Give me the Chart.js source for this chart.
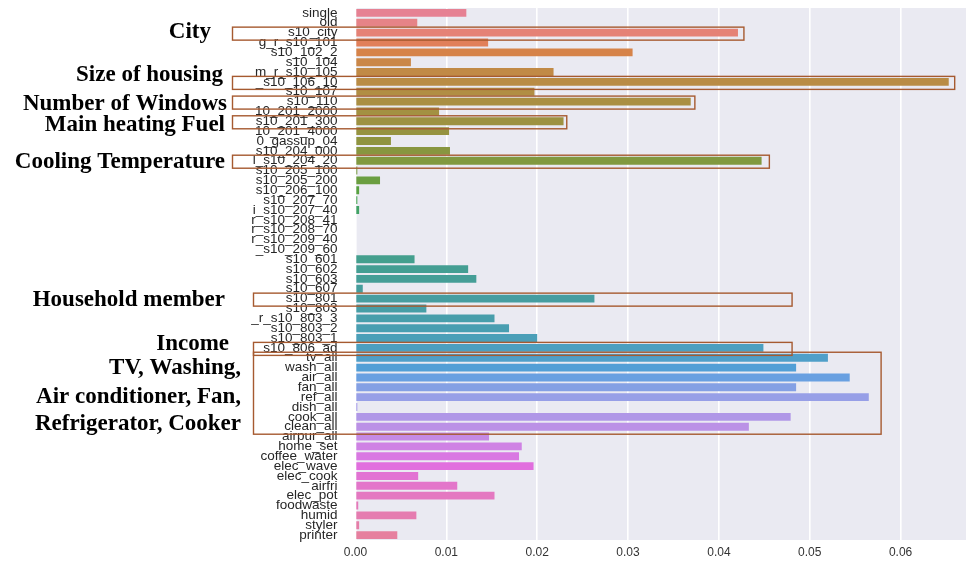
<!DOCTYPE html>
<html>
<head>
<meta charset="utf-8">
<script src="https://cdn.jsdelivr.net/npm/chart.js@4"></script>
<style>
  html, body { margin: 0; padding: 0; background: #ffffff; }
  #wrap { width: 968px; height: 571px; }
</style>
</head>
<body>
<div id="wrap"><canvas id="c" width="968" height="571"></canvas></div>
<script>
// Feature names (one per bar, top to bottom)
const features = [
  "single", "old", "s10_city", "g_r_s10_101", "s10_102_2", "s10_104",
  "m_r_s10_105", "_s10_106_10", "s10_107", "s10_110", "10_201_2000",
  "s10_201_300", "10_201_4000", "0_gassup_04", "s10_204_000", "l_s10_204_20",
  "s10_205_100", "s10_205_200", "s10_206_100", "s10_207_70", "i_s10_207_40",
  "r_s10_208_41", "r_s10_208_70", "r_s10_209_40", "_s10_209_60",
  "s10_601", "s10_602", "s10_603", "s10_607", "s10_801", "s10_803",
  "_r_s10_803_3", "s10_803_2", "s10_803_1", "s10_806_ad",
  "tv_all", "wash_all", "air_all", "fan_all", "ref_all", "dish_all",
  "cook_all", "clean_all", "airpur_all", "home_set", "coffee_water",
  "elec_wave", "elec_cook", "airfri", "elec_pot", "foodwaste", "humid",
  "styler", "printer"
];

// Importance score of each feature
const importance = [
  0.0122, 0.0068, 0.0421, 0.0146, 0.0305, 0.0061,
  0.0218, 0.0653, 0.0197, 0.0369, 0.0092,
  0.0229, 0.0103, 0.0039, 0.0104, 0.0447,
  0.0002, 0.0027, 0.0004, 0.0002, 0.0004,
  0.0, 0.0, 0.0, 0.0,
  0.0065, 0.0124, 0.0133, 0.0008, 0.0263, 0.0078,
  0.0153, 0.0169, 0.0200, 0.0449,
  0.0520, 0.0485, 0.0544, 0.0485, 0.0565, 0.0002,
  0.0479, 0.0433, 0.0147, 0.0183, 0.0180,
  0.0196, 0.0069, 0.0112, 0.0153, 0.0003, 0.0067,
  0.0004, 0.0046
];

// Value-axis ticks
const xTicks = [0.00, 0.01, 0.02, 0.03, 0.04, 0.05, 0.06];

// Highlighted feature groups: first row, last row, right end (in axis units)
const groupNames = ["City", "Size of housing", "Number of Windows", "Main heating Fuel",
  "Cooling Temperature", "Household member", "Income", "Appliances"];
const groupFirstRow = [2, 7, 9, 11, 15, 29, 34, 35];
const groupLastRow  = [2, 7, 9, 11, 15, 29, 34, 42];
const groupRightVal = [0.0427, 0.0659, 0.0373, 0.0232, 0.0455, 0.0480, 0.0480, 0.0578];

// Side captions
const captions = ["City", "Size of housing", "Number of Windows", "Main heating Fuel",
  "Cooling Temperature", "Household member", "Income", "TV, Washing,",
  "Air conditioner, Fan,", "Refrigerator, Cooker"];

// ---- layout for the callouts (pixels) ----
const boxLeft = [232, 232, 232, 232, 232, 253, 253, 253];
const captionRight = [211, 223, 227, 225, 225, 225, 229, 241, 241, 241];
const captionY = [32, 75, 104, 125, 162, 300, 344, 368, 397, 424];

// ---- seaborn-like "husl" palette, desaturated for bars ----
const M = [[3.2406, -1.5372, -0.4986], [-0.9689, 1.8758, 0.0415], [0.0557, -0.2040, 1.0570]];
const refU = 0.19784, refV = 0.46834, labE = 0.008856, labK = 903.3;

function maxChroma(L, H) {
  const hr = H / 360 * 2 * Math.PI, sinH = Math.sin(hr), cosH = Math.cos(hr);
  const sub1 = Math.pow(L + 16, 3) / 1560896;
  const sub2 = sub1 > labE ? sub1 : L / labK;
  let res = Infinity;
  for (const [m1, m2, m3] of M) {
    const top = (0.99915 * m1 + 1.05122 * m2 + 1.14460 * m3) * sub2;
    const rb = 0.86330 * m3 - 0.17266 * m2;
    const lb = 0.12949 * m3 - 0.38848 * m1;
    const bottom = (rb * sinH + lb * cosH) * sub2;
    for (const t of [0, 1]) {
      const C = L * (top - 1.05122 * t) / (bottom + 0.17266 * sinH * t);
      if (C > 0 && C < res) res = C;
    }
  }
  return res;
}
function fInv(t) { const t3 = t * t * t; return t3 > labE ? t3 : (116 * t - 16) / labK; }
function fromLinear(c) { return c <= 0.0031308 ? 12.92 * c : 1.055 * Math.pow(c, 1 / 2.4) - 0.055; }
function huslToRgb(H, S, L) {
  const C = maxChroma(L, H) / 100 * S;
  const hr = H / 360 * 2 * Math.PI;
  const U = Math.cos(hr) * C, V = Math.sin(hr) * C;
  const Y = fInv((L + 16) / 116);
  const vu = U / (13 * L) + refU, vv = V / (13 * L) + refV;
  const X = -(9 * Y * vu) / ((vu - 4) * vv - vu * vv);
  const Z = (9 * Y - 15 * vv * Y - vv * X) / (3 * vv);
  return M.map(r => Math.min(1, Math.max(0, fromLinear(r[0] * X + r[1] * Y + r[2] * Z))));
}
function rgbToHls(r, g, b) {
  const mx = Math.max(r, g, b), mn = Math.min(r, g, b);
  const l = (mx + mn) / 2;
  if (mx === mn) return [0, l, 0];
  const d = mx - mn;
  const s = l <= 0.5 ? d / (mx + mn) : d / (2 - mx - mn);
  const rc = (mx - r) / d, gc = (mx - g) / d, bc = (mx - b) / d;
  let h = r === mx ? bc - gc : g === mx ? 2 + rc - bc : 4 + gc - rc;
  h = ((h / 6) % 1 + 1) % 1;
  return [h, l, s];
}
function hlsToRgb(h, l, s) {
  if (s === 0) return [l, l, l];
  const m2 = l <= 0.5 ? l * (1 + s) : l + s - l * s;
  const m1 = 2 * l - m2;
  const v = (hue) => {
    hue = ((hue % 1) + 1) % 1;
    if (hue < 1 / 6) return m1 + (m2 - m1) * hue * 6;
    if (hue < 0.5) return m2;
    if (hue < 2 / 3) return m1 + (m2 - m1) * (2 / 3 - hue) * 6;
    return m1;
  };
  return [v(h + 1 / 3), v(h), v(h - 1 / 3)];
}
function barPalette(n) {
  const out = [];
  for (let i = 0; i < n; i++) {
    const hue = ((i / n + 0.01) % 1) * 359;
    const rgb = huslToRgb(hue, 0.9 * 99, 0.65 * 99);
    const [h, l, s] = rgbToHls(...rgb);
    const d = hlsToRgb(h, l, s * 0.75);
    out.push('rgb(' + d.map(c => Math.round(c * 255)).join(',') + ')');
  }
  return out;
}

// Grey panel behind the plot
const panel = {
  id: 'panel',
  beforeDraw(chart) {
    const { ctx, chartArea: a } = chart;
    ctx.save();
    ctx.fillStyle = '#ffffff';
    ctx.fillRect(0, 0, chart.width, chart.height);
    ctx.fillStyle = '#eaeaf2';
    ctx.fillRect(a.left, a.top, a.right - a.left, a.bottom - a.top);
    ctx.restore();
  }
};

// Group outlines and side captions
const callouts = {
  id: 'callouts',
  afterDraw(chart) {
    const { ctx } = chart;
    const xs = chart.scales.x, ys = chart.scales.y;
    ctx.save();
    ctx.strokeStyle = '#a65a30';
    ctx.lineWidth = 1.4;
    groupNames.forEach((name, i) => {
      const top = ys.getPixelForValue(groupFirstRow[i]) - 6;
      const bottom = ys.getPixelForValue(groupLastRow[i]) + 7;
      const right = xs.getPixelForValue(groupRightVal[i]);
      ctx.strokeRect(boxLeft[i] + 0.5, top + 0.5, right - boxLeft[i], bottom - top);
    });
    ctx.fillStyle = '#000000';
    ctx.font = 'bold 23px "Liberation Serif", "Times New Roman", serif';
    ctx.textAlign = 'right';
    ctx.textBaseline = 'middle';
    captions.forEach((t, i) => ctx.fillText(t, captionRight[i], captionY[i]));
    ctx.restore();
  }
};

new Chart(document.getElementById('c'), {
  type: 'bar',
  data: {
    labels: features,
    datasets: [{
      data: importance,
      backgroundColor: barPalette(features.length),
      borderWidth: 0,
      barPercentage: 0.8,
      categoryPercentage: 1.0
    }]
  },
  options: {
    indexAxis: 'y',
    responsive: false,
    animation: false,
    devicePixelRatio: 1,
    layout: { padding: { top: 8, right: 2, left: 0, bottom: 0 } },
    plugins: { legend: { display: false }, tooltip: { enabled: false } },
    scales: {
      x: {
        min: 0,
        max: 0.0672,
        afterFit(s) { s.height = 31; s.paddingLeft = 0; s.paddingRight = 0; },
        afterBuildTicks(s) { s.ticks = xTicks.map(v => ({ value: v })); },
        grid: { color: '#ffffff', lineWidth: 1.6, drawTicks: false },
        border: { display: false },
        ticks: {
          padding: 5,
          color: '#333333',
          font: { family: '"Liberation Sans", Arial, sans-serif', size: 12 },
          callback: (v) => Number(v).toFixed(2)
        }
      },
      y: {
        afterFit(s) { s.width = 355.5; s.paddingTop = 0; s.paddingBottom = 0; },
        grid: { display: false, drawTicks: false },
        border: { display: false },
        ticks: {
          autoSkip: false,
          padding: 18,
          color: '#262626',
          font: { family: '"Liberation Sans", Arial, sans-serif', size: 13.5 }
        }
      }
    }
  },
  plugins: [panel, callouts]
});
</script>
</body>
</html>
